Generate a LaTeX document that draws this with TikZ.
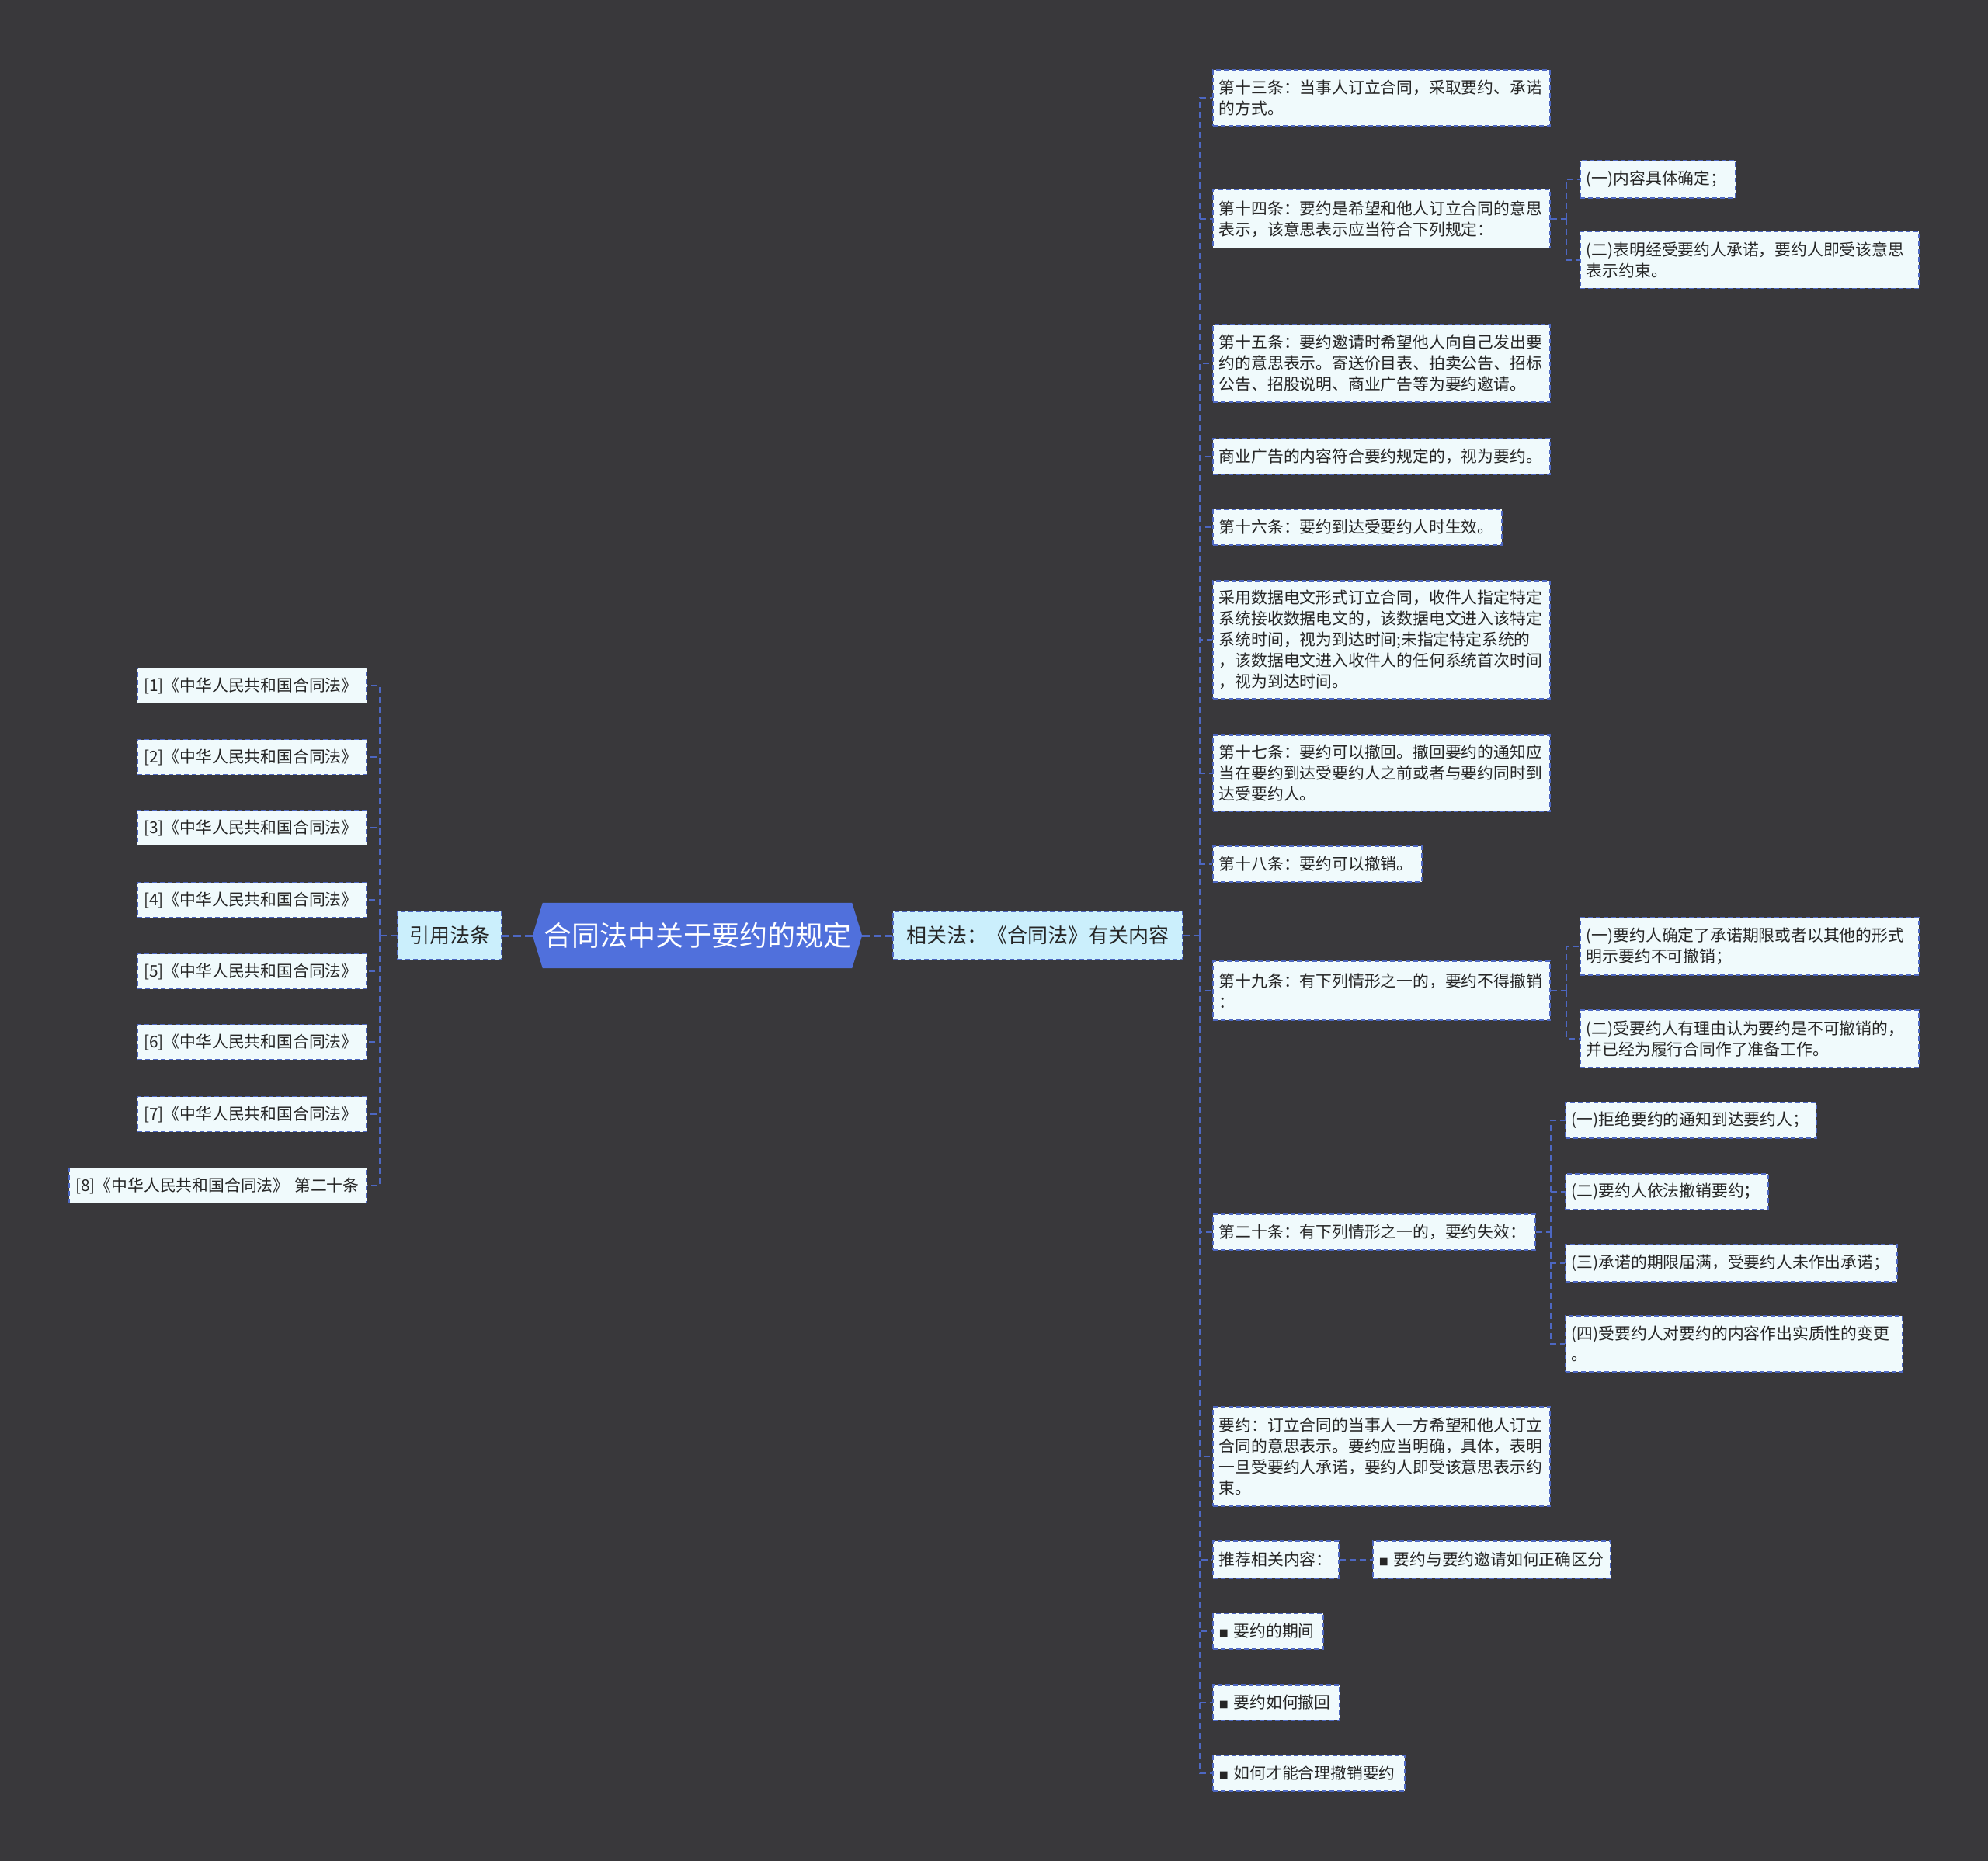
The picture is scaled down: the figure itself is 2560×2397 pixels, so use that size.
\documentclass[tikz,border=0pt]{standalone}
\usepackage{fontspec}
\setmainfont{Noto Sans CJK SC}
\usetikzlibrary{backgrounds,calc}
\definecolor{bgc}{HTML}{39383B}
\definecolor{rootfill}{HTML}{5070DC}
\definecolor{lonefill}{HTML}{CBEFFC}
\definecolor{leaffill}{HTML}{F0FAFC}
\definecolor{edgec}{HTML}{4D67C2}
\definecolor{txt}{HTML}{262626}
\newcommand{\sq}{{\fontsize{12}{12}\selectfont ■}\ }
\begin{document}
\begin{tikzpicture}[x=1pt,y=-1pt,
  leaf/.style={draw=edgec, line width=1.6pt, dash pattern=on 6pt off 4pt, fill=leaffill, text=txt,
    font=\fontsize{20.8}{27}\selectfont, align=left, inner xsep=8pt, inner ysep=3pt, anchor=west},
  lleaf/.style={leaf, anchor=east},
  lone/.style={draw=edgec, line width=1.6pt, dash pattern=on 6pt off 4pt, fill=lonefill, text=txt,
    font=\fontsize{26}{30}\selectfont, inner sep=0pt, minimum height=62pt},
  rootn/.style={text=white, font=\fontsize{36}{42}\selectfont, inner sep=0pt, minimum width=398pt, minimum height=84pt},
  conn/.style={draw=edgec, line width=2pt, dash pattern=on 8pt off 5pt},
  connz/.style={draw=edgec, line width=3pt, dash pattern=on 10pt off 5pt}]
\useasboundingbox (0,0) rectangle (2560,2397);
\begin{scope}[on background layer]
  \fill[bgc] (0,0) rectangle (2560,2397);
\end{scope}

% root
\node[rootn] (root) at (898,1205) {合同法中关于要约的规定};
\coordinate (rootR) at ($(root.east)+(13,0)$);
\coordinate (rootL) at ($(root.west)+(-13,0)$);
\begin{scope}[on background layer]
  \fill[rootfill] (root.north west) -- (root.north east) -- (rootR) -- (root.south east) -- (root.south west) -- (rootL) -- cycle;
\end{scope}

% level one
\node[lone, anchor=west, minimum width=373pt] (rel) at (1149,1205) {相关法：《合同法》有关内容};
\node[lone, anchor=east, minimum width=134pt] (cite) at (647,1205) {引用法条};

% right leaves
\node[leaf, text width=418pt, minimum height=72pt] (r1) at (1561,126) {第十三条：当事人订立合同，采取要约、承诺\\的方式。};
\node[leaf, text width=418pt, minimum height=75pt] (r2) at (1561,282) {第十四条：要约是希望和他人订立合同的意思\\表示，该意思表示应当符合下列规定：};
\node[leaf, text width=184pt, minimum height=48pt] (r2a) at (2034,231) {(一)内容具体确定；};
\node[leaf, text width=420pt, minimum height=73pt] (r2b) at (2034,335) {(二)表明经受要约人承诺，要约人即受该意思\\表示约束。};
\node[leaf, text width=418pt, minimum height=100pt] (r3) at (1561,468) {第十五条：要约邀请时希望他人向自己发出要\\约的意思表示。寄送价目表、拍卖公告、招标\\公告、招股说明、商业广告等为要约邀请。};
\node[leaf, text width=418pt, minimum height=46pt] (r4) at (1561,588) {商业广告的内容符合要约规定的，视为要约。};
\node[leaf, text width=356pt, minimum height=46pt] (r5) at (1561,679) {第十六条：要约到达受要约人时生效。};
\node[leaf, text width=418pt, minimum height=152pt] (r6) at (1561,824) {采用数据电文形式订立合同，收件人指定特定\\系统接收数据电文的，该数据电文进入该特定\\系统时间，视为到达时间;未指定特定系统的\\，该数据电文进入收件人的任何系统首次时间\\，视为到达时间。};
\node[leaf, text width=418pt, minimum height=98pt] (r7) at (1561,996) {第十七条：要约可以撤回。撤回要约的通知应\\当在要约到达受要约人之前或者与要约同时到\\达受要约人。};
\node[leaf, text width=253pt, minimum height=46pt] (r8) at (1561,1113) {第十八条：要约可以撤销。};
\node[leaf, text width=418pt, minimum height=76pt] (r9) at (1561,1276) {第十九条：有下列情形之一的，要约不得撤销\\：};
\node[leaf, text width=420pt, minimum height=74pt] (r9a) at (2034,1219) {(一)要约人确定了承诺期限或者以其他的形式\\明示要约不可撤销；};
\node[leaf, text width=420pt, minimum height=74pt] (r9b) at (2034,1338) {(二)受要约人有理由认为要约是不可撤销的，\\并已经为履行合同作了准备工作。};
\node[leaf, text width=399pt, minimum height=46pt] (r10) at (1561,1587) {第二十条：有下列情形之一的，要约失效：};
\node[leaf, text width=307pt, minimum height=46pt] (r10a) at (2015,1443) {(一)拒绝要约的通知到达要约人；};
\node[leaf, text width=245pt, minimum height=46pt] (r10b) at (2015,1535) {(二)要约人依法撤销要约；};
\node[leaf, text width=411pt, minimum height=48pt] (r10c) at (2015,1627) {(三)承诺的期限届满，受要约人未作出承诺；};
\node[leaf, text width=418pt, minimum height=72pt] (r10d) at (2015,1731) {(四)受要约人对要约的内容作出实质性的变更\\。};
\node[leaf, text width=418pt, minimum height=128pt] (r11) at (1561,1876) {要约：订立合同的当事人一方希望和他人订立\\合同的意思表示。要约应当明确，具体，表明\\一旦受要约人承诺，要约人即受该意思表示约\\束。};
\node[leaf, text width=146pt, minimum height=48pt] (r12) at (1561,2009) {推荐相关内容：};
\node[leaf, text width=290pt, minimum height=48pt] (r12a) at (1767,2009) {\sq 要约与要约邀请如何正确区分};
\node[leaf, text width=126pt, minimum height=46pt] (r13) at (1561,2101) {\sq 要约的期间};
\node[leaf, text width=147pt, minimum height=46pt] (r14) at (1561,2193) {\sq 要约如何撤回};
\node[leaf, text width=231pt, minimum height=46pt] (r15) at (1561,2284) {\sq 如何才能合理撤销要约};

% left leaves
\node[lleaf, text width=279pt, minimum height=45pt] (l1) at (473,883) {[1]《中华人民共和国合同法》};
\node[lleaf, text width=279pt, minimum height=45pt] (l2) at (473,975) {[2]《中华人民共和国合同法》};
\node[lleaf, text width=279pt, minimum height=45pt] (l3) at (473,1066) {[3]《中华人民共和国合同法》};
\node[lleaf, text width=279pt, minimum height=45pt] (l4) at (473,1159) {[4]《中华人民共和国合同法》};
\node[lleaf, text width=279pt, minimum height=45pt] (l5) at (473,1251) {[5]《中华人民共和国合同法》};
\node[lleaf, text width=279pt, minimum height=45pt] (l6) at (473,1342) {[6]《中华人民共和国合同法》};
\node[lleaf, text width=279pt, minimum height=45pt] (l7) at (473,1435) {[7]《中华人民共和国合同法》};
\node[lleaf, text width=367pt, minimum height=45pt] (l8) at (473,1527) {[8]《中华人民共和国合同法》 第二十条};

% connectors
\draw[connz] (rootR) -- (rel.west);
\draw[connz] (rootL) -- (cite.east);

\coordinate (tR) at ($(rel.east)+(21,0)$);
\draw[conn] (rel.east) -- (tR);
\foreach \n in {r1,r2,r3,r4,r5,r6,r7,r8,r9,r10,r11,r12,r13,r14,r15}
  \draw[conn] (tR) |- (\n.west);

\coordinate (tL) at ($(cite.west)+(-22,0)$);
\draw[conn] (cite.west) -- (tL);
\foreach \n in {l1,l2,l3,l4,l5,l6,l7,l8}
  \draw[conn] (tL) |- (\n.east);

\coordinate (t2) at ($(r2.east)+(20,0)$);
\draw[conn] (r2.east) -- (t2);
\foreach \n in {r2a,r2b} \draw[conn] (t2) |- (\n.west);

\coordinate (t9) at ($(r9.east)+(20,0)$);
\draw[conn] (r9.east) -- (t9);
\foreach \n in {r9a,r9b} \draw[conn] (t9) |- (\n.west);

\coordinate (t10) at ($(r10.east)+(19,0)$);
\draw[conn] (r10.east) -- (t10);
\foreach \n in {r10a,r10b,r10c,r10d} \draw[conn] (t10) |- (\n.west);

\draw[conn] (r12.east) -- (r12a.west);
\end{tikzpicture}
\end{document}
